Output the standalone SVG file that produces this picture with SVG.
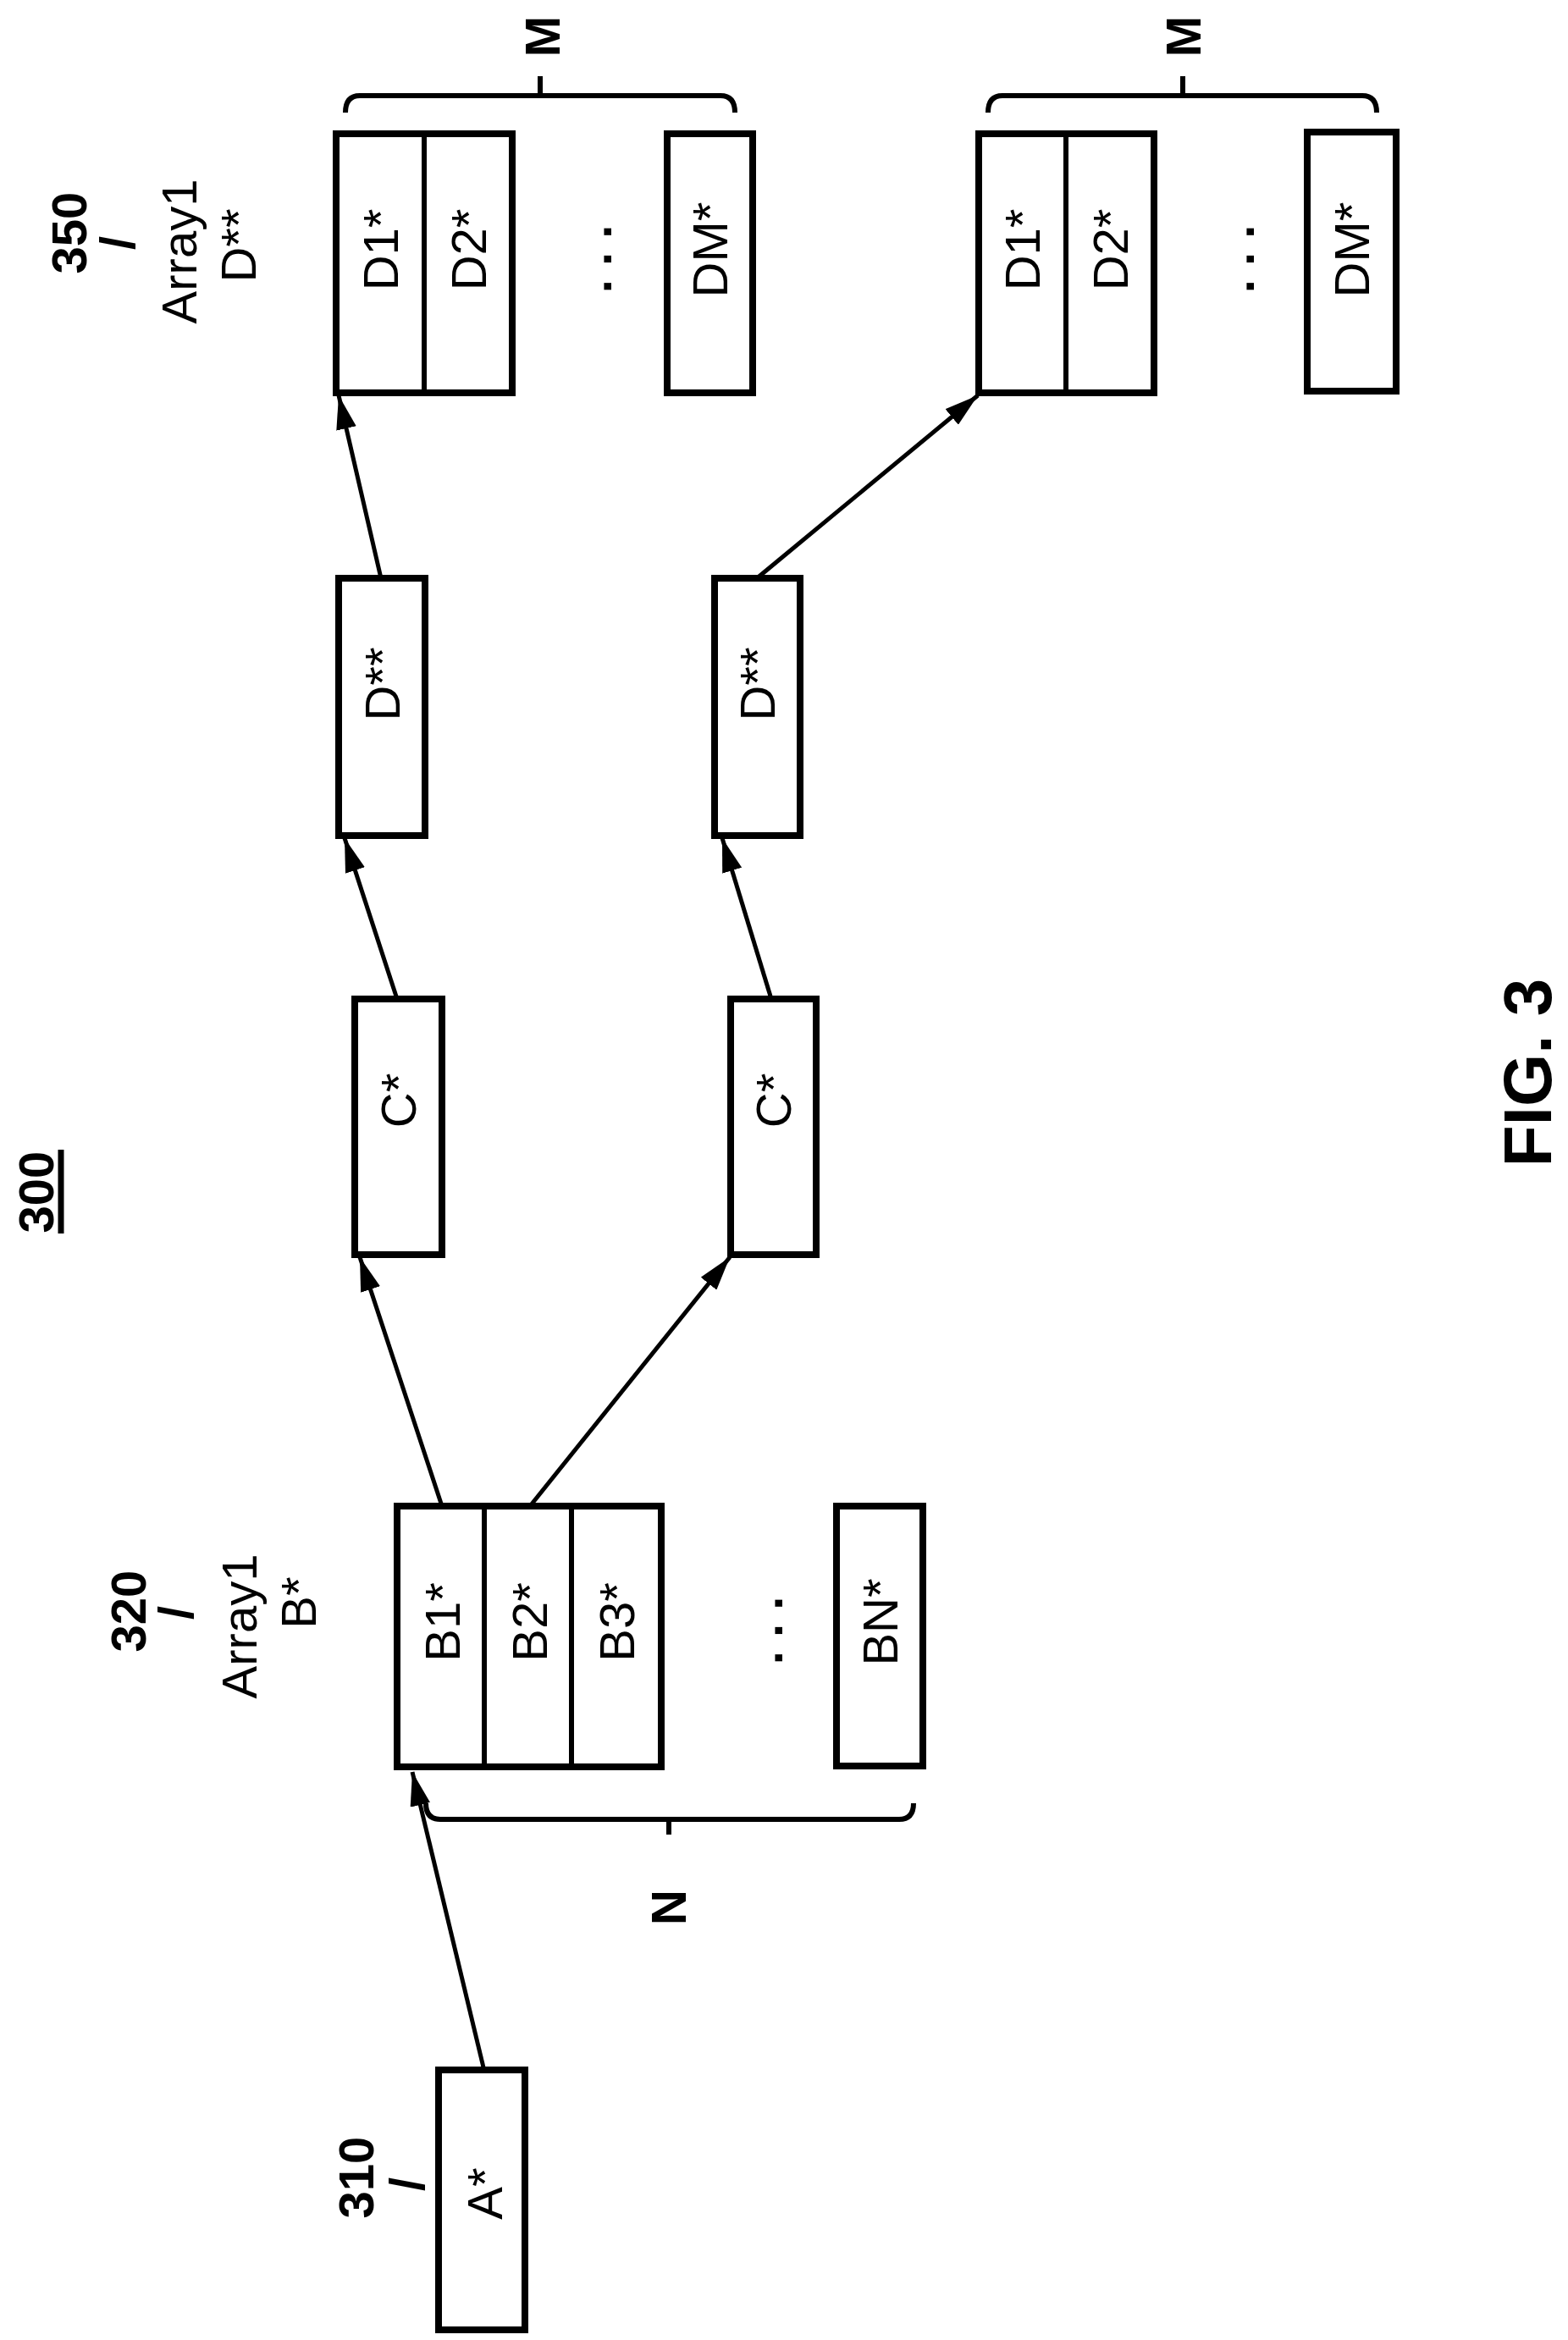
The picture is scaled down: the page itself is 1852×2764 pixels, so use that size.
<svg xmlns="http://www.w3.org/2000/svg" width="1852" height="2764" viewBox="0 0 1852 2764">
<style>
.b{fill:#fff;stroke:#000;stroke-width:8}
.d{stroke:#000;stroke-width:6}
.t{font-family:"Liberation Sans",Arial,sans-serif;font-size:58px;text-anchor:middle;fill:#000}
.r{font-weight:bold}
.c{fill:none;stroke:#000;stroke-width:5}
.br{fill:none;stroke:#000;stroke-width:6}
</style>
<defs>
<marker id="ah" viewBox="0 0 10 10" refX="10" refY="5" markerWidth="7" markerHeight="7" markerUnits="userSpaceOnUse" orient="auto" style="overflow:visible">
<path d="M0,0 L10,5 L0,10 Z" fill="#000" transform="scale(4)"/>
</marker>
<marker id="a" viewBox="0 0 40 24" refX="40" refY="12" markerWidth="40" markerHeight="24" markerUnits="userSpaceOnUse" orient="auto">
<path d="M0,0 L40,12 L0,24 Z" fill="#000"/>
</marker>
</defs>
<rect width="1852" height="2764" fill="#fff"/>
<g id="title">
<text class="t r" transform="translate(42,1408) rotate(-90)" dy="0.36em" font-size="60">300</text>
<line x1="72" y1="1358" x2="72" y2="1457" stroke="#000" stroke-width="7"/>
<text class="t r" transform="translate(1803,1267) rotate(-90)" dy="0.36em" style="font-size:80px">FIG. 3</text>
</g>
<g id="connectors">
<line class="c" x1="571" y1="2442" x2="487" y2="2093" marker-end="url(#a)"/>
<line class="c" x1="522" y1="1779" x2="425" y2="1485" marker-end="url(#a)"/>
<line class="c" x1="626" y1="1779" x2="862" y2="1485" marker-end="url(#a)"/>
<line class="c" x1="469" y1="1180" x2="407" y2="990" marker-end="url(#a)"/>
<line class="c" x1="911" y1="1180" x2="853" y2="990" marker-end="url(#a)"/>
<line class="c" x1="450" y1="683" x2="400" y2="467" marker-end="url(#a)"/>
<line class="c" x1="894" y1="683" x2="1155" y2="467" marker-end="url(#a)"/>
</g>
<g id="n310">
<rect class="b" x="518" y="2445" width="102" height="307"/>
<text class="t" transform="translate(572,2591) rotate(-90)" dy="0.36em">A*</text>
<text class="t r" transform="translate(420,2572) rotate(-90)" dy="0.36em">310</text>
<text class="t r" transform="translate(480,2580) rotate(-90)" dy="0.36em">/</text>
</g>
<g id="n320">
<text class="t r" transform="translate(151,1903) rotate(-90)" dy="0.36em">320</text>
<text class="t r" transform="translate(207,1905) rotate(-90)" dy="0.36em">/</text>
<text class="t" transform="translate(282,1921) rotate(-90)" dy="0.36em">Array1</text>
<text class="t" transform="translate(352,1893) rotate(-90)" dy="0.36em">B*</text>
<rect class="b" x="469" y="1779" width="312" height="308"/>
<line class="d" x1="572" y1="1779" x2="572" y2="2087"/>
<line class="d" x1="675" y1="1779" x2="675" y2="2087"/>
<text class="t" transform="translate(522,1916) rotate(-90)" dy="0.36em">B1*</text>
<text class="t" transform="translate(625,1916) rotate(-90)" dy="0.36em">B2*</text>
<text class="t" transform="translate(728,1916) rotate(-90)" dy="0.36em">B3*</text>
<text class="t r" transform="translate(903,1926) rotate(-90)" dy="0.36em">. . .</text>
<rect class="b" x="988" y="1779" width="102" height="307"/>
<text class="t" transform="translate(1039,1916) rotate(-90)" dy="0.36em">BN*</text>
<path class="br" d="M503,2130 Q503,2149 520,2149 L1062,2149 Q1079,2149 1079,2130 M790,2149 L790,2167"/>
<text class="t r" transform="translate(789,2253) rotate(-90)" dy="0.36em">N</text>
</g>
<g id="c1">
<rect class="b" x="419" y="1180" width="103" height="302"/>
<text class="t" transform="translate(470,1300) rotate(-90)" dy="0.36em">C*</text>
</g>
<g id="c2">
<rect class="b" x="863" y="1180" width="101" height="302"/>
<text class="t" transform="translate(913,1300) rotate(-90)" dy="0.36em">C*</text>
</g>
<g id="dd1">
<rect class="b" x="400" y="683" width="102" height="304"/>
<text class="t" transform="translate(451,808) rotate(-90)" dy="0.36em">D**</text>
</g>
<g id="dd2">
<rect class="b" x="844" y="683" width="101" height="304"/>
<text class="t" transform="translate(894,808) rotate(-90)" dy="0.36em">D**</text>
</g>
<g id="n350">
<text class="t r" transform="translate(81,275) rotate(-90)" dy="0.36em">350</text>
<text class="t r" transform="translate(138,287) rotate(-90)" dy="0.36em">/</text>
<text class="t" transform="translate(211,297) rotate(-90)" dy="0.36em">Array1</text>
<text class="t" transform="translate(281,290) rotate(-90)" dy="0.36em">D**</text>
<rect class="b" x="397" y="158" width="208" height="306"/>
<line class="d" x1="501" y1="158" x2="501" y2="464"/>
<text class="t" transform="translate(449,295) rotate(-90)" dy="0.36em">D1*</text>
<text class="t" transform="translate(553,295) rotate(-90)" dy="0.36em">D2*</text>
<text class="t r" transform="translate(701,306) rotate(-90)" dy="0.36em">. . .</text>
<rect class="b" x="788" y="158" width="101" height="306"/>
<text class="t" transform="translate(838,295) rotate(-90)" dy="0.36em">DM*</text>
<path class="br" d="M408,133 Q408,113 425,113 L851,113 Q868,113 868,133 M638,113 L638,90"/>
<text class="t r" transform="translate(640,43) rotate(-90)" dy="0.36em">M</text>
</g>
<g id="n350b">
<rect class="b" x="1156" y="158" width="207" height="306"/>
<line class="d" x1="1259" y1="158" x2="1259" y2="464"/>
<text class="t" transform="translate(1207,295) rotate(-90)" dy="0.36em">D1*</text>
<text class="t" transform="translate(1311,295) rotate(-90)" dy="0.36em">D2*</text>
<text class="t r" transform="translate(1460,306) rotate(-90)" dy="0.36em">. . .</text>
<rect class="b" x="1544" y="156" width="105" height="306"/>
<text class="t" transform="translate(1596,295) rotate(-90)" dy="0.36em">DM*</text>
<path class="br" d="M1167,133 Q1167,113 1184,113 L1609,113 Q1626,113 1626,133 M1397,113 L1397,90"/>
<text class="t r" transform="translate(1397,43) rotate(-90)" dy="0.36em">M</text>
</g>
</svg>
